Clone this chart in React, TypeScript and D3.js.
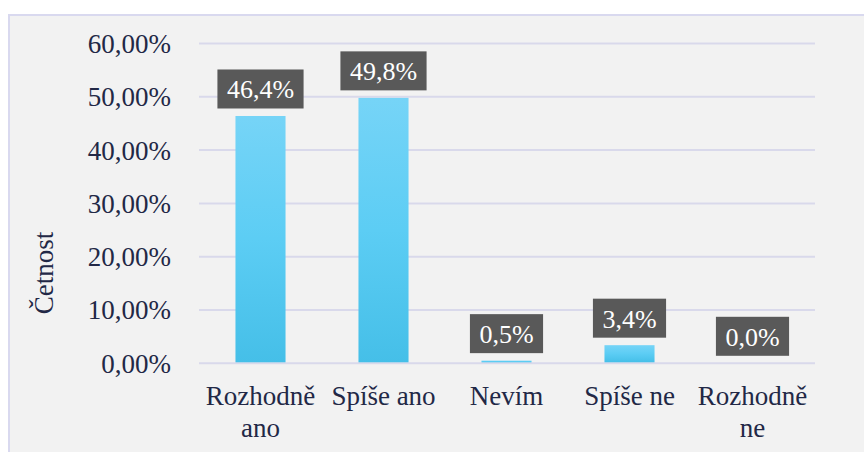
import React from "react";
import * as d3 from "d3";

const categories: string[][] = [["Rozhodně", "ano"], ["Spíše ano"], ["Nevím"], ["Spíše ne"], ["Rozhodně", "ne"]];
const categoryKeys = ["Rozhodně ano", "Spíše ano", "Nevím", "Spíše ne", "Rozhodně ne"];
const values = [0.464, 0.498, 0.005, 0.034, 0.0];
const valueLabels = ["46,4%", "49,8%", "0,5%", "3,4%", "0,0%"];
const yTicks = [0, 0.1, 0.2, 0.3, 0.4, 0.5, 0.6];
const yTickLabels = ["0,00%", "10,00%", "20,00%", "30,00%", "40,00%", "50,00%", "60,00%"];
const yTitle = "Četnost";

const W = 864;
const H = 452;
const FONT = '"Liberation Serif", "Times New Roman", Times, serif';
const TEXT = "#222846";
const fontStyle = { fontFamily: FONT };

export default function App() {
  const x = d3
    .scaleBand<string>()
    .domain(categoryKeys)
    .range([199, 814])
    .paddingInner(0.593)
    .paddingOuter(0.2965);
  const y = d3.scaleLinear().domain([0, 0.6]).range([363.3, 43.5]);

  const measure = (s: string) => {
    let w = 0;
    for (const ch of s) {
      if (/[0-9]/.test(ch)) w += 0.5;
      else if (ch === ",") w += 0.25;
      else if (ch === "%") w += 0.833;
      else w += 0.5;
    }
    return w;
  };

  return (
    <svg
      width={W}
      height={H}
      style={{ position: "absolute", left: 0, top: 0, display: "block", fontFamily: FONT }}
    >
      <defs>
        <linearGradient id="barGrad" x1="0" y1="0" x2="0" y2="1">
          <stop offset="0%" stopColor="#76d4f7" />
          <stop offset="50%" stopColor="#5ccdf4" />
          <stop offset="100%" stopColor="#45bfe8" />
        </linearGradient>
      </defs>
      <rect x={0} y={0} width={W} height={H} fill="#ffffff" />
      <rect x={9} y={15} width={W + 10} height={H + 10} fill="#f2f2f2" stroke="#d9d9ef" strokeWidth={2} />

      {yTicks.map((t, i) => (
        <g key={"t" + i}>
          <line x1={199} x2={815} y1={y(t)} y2={y(t)} stroke="#d9d9eb" strokeWidth={2} />
          <text
            x={171}
            y={y(t)}
            dy="0.35em"
            textAnchor="end"
            fontSize={27}
            fill={TEXT}
            style={fontStyle}
          >
            {yTickLabels[i]}
          </text>
        </g>
      ))}

      {values.map((v, i) => {
        const bx = x(categoryKeys[i])!;
        const bw = x.bandwidth();
        const top = y(v);
        const cx = bx + bw / 2;
        const tw = measure(valueLabels[i]) * 26 + 19;
        const boxBottom = top - 7.5;
        const boxTop = boxBottom - 39;
        return (
          <g key={"b" + i}>
            {v > 0 && (
              <rect x={bx} y={top} width={bw} height={y(0) - top - 1} fill="url(#barGrad)" />
            )}
            <rect x={cx - tw / 2} y={boxTop} width={tw} height={39} fill="#595959" />
            <text x={cx} y={boxTop + 29} textAnchor="middle" fontSize={26} fill="#ffffff" style={fontStyle}>
              {valueLabels[i]}
            </text>
          </g>
        );
      })}

      {categories.map((lines, i) => {
        const cx = x(categoryKeys[i])! + x.bandwidth() / 2;
        return (
          <text key={"c" + i} textAnchor="middle" fontSize={27} fill={TEXT} style={fontStyle}>
            {lines.map((l, j) => (
              <tspan key={j} x={cx} y={405 + j * 32}>
                {l}
              </tspan>
            ))}
          </text>
        );
      })}

      <text
        transform="translate(53,273) rotate(-90)"
        textAnchor="middle"
        fontSize={27}
        fill={TEXT}
        style={fontStyle}
      >
        {yTitle}
      </text>
    </svg>
  );
}
